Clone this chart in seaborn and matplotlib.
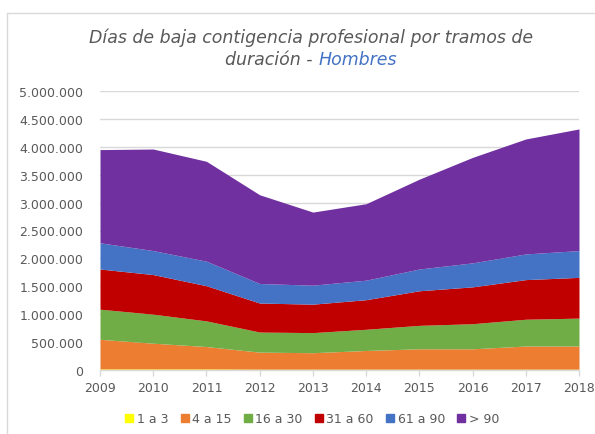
import matplotlib
matplotlib.use("Agg")
import matplotlib.pyplot as plt
from matplotlib.lines import Line2D
from matplotlib.ticker import FuncFormatter
import seaborn as sns
import numpy as np

years = [2009, 2010, 2011, 2012, 2013, 2014, 2015, 2016, 2017, 2018]
labels = ["1 a 3", "4 a 15", "16 a 30", "31 a 60", "61 a 90", "> 90"]
s_1_3 = [20000, 20000, 20000, 15000, 15000, 15000, 15000, 15000, 15000, 15000]
s_4_15 = [530000, 460000, 400000, 305000, 295000, 335000, 365000, 365000, 415000, 415000]
s_16_30 = [540000, 520000, 460000, 360000, 360000, 380000, 420000, 450000, 480000, 500000]
s_31_60 = [720000, 710000, 630000, 520000, 510000, 530000, 620000, 660000, 710000, 730000]
s_61_90 = [470000, 430000, 440000, 350000, 340000, 350000, 390000, 430000, 460000, 480000]
s_90 = [1670000, 1820000, 1790000, 1590000, 1310000, 1370000, 1610000, 1890000, 2060000, 2180000]
colors = ["#FFFF00", "#ED7D31", "#70AD47", "#C00000", "#4472C4", "#7030A0"]

sns.set_theme(style="white")
plt.rcParams['font.family'] = ['DejaVu Sans']
grey = "#595959"

fig = plt.figure(figsize=(5.95, 4.35), dpi=100)
ax = fig.add_axes([100/595, 1-371/435, 479/595, 279/435])
ax.stackplot(years, s_1_3, s_4_15, s_16_30, s_31_60, s_61_90, s_90,
             colors=colors, labels=labels, linewidth=0)
ax.set_xlim(2009, 2018)
ax.set_ylim(0, 5000000)
ax.set_yticks(np.arange(0, 5000001, 500000))
ax.set_xticks(years)
ax.yaxis.set_major_formatter(FuncFormatter(lambda v, p: f"{int(v):,}".replace(",", ".")))
ax.grid(axis="y", color="#D9D9D9", linewidth=1)
ax.set_axisbelow(True)
for s in ["top", "right", "left"]:
    ax.spines[s].set_visible(False)
ax.spines["bottom"].set_color("#D9D9D9")
ax.spines["bottom"].set_linewidth(1)
ax.spines["bottom"].set_zorder(5)
ax.tick_params(axis="y", length=0, pad=12, labelsize=9, labelcolor=grey)
ax.tick_params(axis="x", length=4, width=1, color="#D9D9D9", direction="out",
               bottom=True, pad=4, labelsize=9, labelcolor=grey)

# Title
t1 = fig.text(311/595, 1-38/435, "Días de baja contigencia profesional por tramos de",
              ha="center", va="center", fontsize=12.5, style="italic", color=grey)
fig.canvas.draw()
r = fig.canvas.get_renderer()
ta = fig.text(0, 1-60/435, "duración - ", ha="left", va="center", fontsize=12.5,
              style="italic", color=grey)
tb = fig.text(0, 1-60/435, "Hombres", ha="left", va="center", fontsize=12.5,
              style="italic", color="#4472C4")
wa = ta.get_window_extent(r).width
wb = tb.get_window_extent(r).width
x0 = 311 - (wa + wb) / 2
ta.set_x(x0 / 595)
tb.set_x((x0 + wa) / 595)

# Legend
handles = [Line2D([], [], marker="s", linestyle="none", markersize=6,
                  markerfacecolor=c, markeredgecolor=c) for c in colors]
fig.legend(handles, labels, loc="center", bbox_to_anchor=(311/595, 1-420/435),
           ncol=6, frameon=False, fontsize=9, labelcolor=grey,
           handletextpad=0.1, columnspacing=0.8, handlelength=1.0)

# Chart border
fig.add_artist(Line2D([7/595, 1.0], [1-14/435, 1-14/435], transform=fig.transFigure,
                      color="#D9D9D9", linewidth=1))
fig.add_artist(Line2D([7/595, 7/595], [0, 1-14/435], transform=fig.transFigure,
                      color="#D9D9D9", linewidth=1))

fig.savefig("out.png", dpi=100)
